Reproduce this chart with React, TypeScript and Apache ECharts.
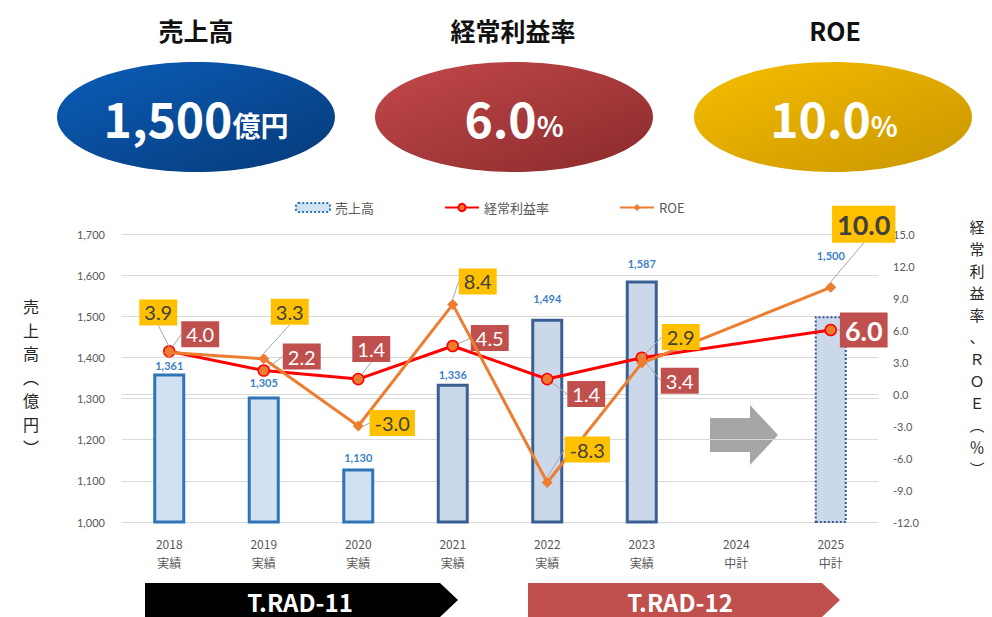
import React, { useEffect, useRef } from "react";
import * as echarts from "echarts";

// ---- data ----
const years = ["2018", "2019", "2020", "2021", "2022", "2023", "2024", "2025"];
const kinds = ["実績", "実績", "実績", "実績", "実績", "実績", "中計", "中計"];
const sales: (number | null)[] = [1361, 1305, 1130, 1336, 1494, 1587, null, 1500];
const profitRate: (number | null)[] = [4.0, 2.2, 1.4, 4.5, 1.4, 3.4, null, 6.0];
const roe: (number | null)[] = [3.9, 3.3, -3.0, 8.4, -8.3, 2.9, null, 10.0];
const salesAxis = { min: 1000, max: 1700, interval: 100 };
const rateAxis = { min: -12, max: 15, interval: 3 };
const targets = { sales: "1,500", profit: "6.0", roe: "10.0" };
const leftAxisName = ["売", "上", "高", "︵", "億", "円", "︶"];
const rightAxisName = ["経", "常", "利", "益", "率", "、", "Ｒ", "Ｏ", "Ｅ", "︵", "％", "︶"];

// ---- styles (label shifts in px, not data) ----
const barFill = ["#D0E1F2", "#D0E1F2", "#D0E1F2", "#CBD8EA", "#CBD8EA", "#CBD8EA", "#CBD8EA", "#CBD8EA"];
const barBorder = ["#2E75B6", "#2E75B6", "#2E75B6", "#3A5F92", "#3A5F92", "#3A5F92", "#3A5F92", "#2F5597"];
const barLabelGap = [2, 9, 6, 4, 15, 12, 0, 55];
const roeShift = [[-11, -40], [26, -47], [34, -3], [25, -23], [40, -33], [39, -26], [0, 0], [33, -63]];
const profitShift = [[31, -17], [38, -14], [13, -30], [37, -8], [39, 15], [38, 23], [0, 0], [33, 0]];

const JP = "'Noto Sans CJK JP', 'Noto Sans', sans-serif";
const NUM = "Lato, 'Noto Sans CJK JP', sans-serif";

export default function App() {
  const ref = useRef<HTMLDivElement>(null);
  useEffect(() => {
    if (!ref.current) return;
    const chart = echarts.init(ref.current, undefined, { renderer: "svg" });
    const last = years.length - 1;

    const ellipse = (cx: number, c1: string, c2: string) => ({
      type: "ellipse",
      shape: { cx, cy: 117, rx: 139, ry: 55 },
      style: { fill: new echarts.graphic.LinearGradient(0, 0, 1, 1, [{ offset: 0, color: c1 }, { offset: 1, color: c2 }]) },
      z: 1,
    });
    const title = (x: number, text: string) => ({
      type: "text",
      x, y: 30,
      style: { text, fontSize: 25, fontWeight: "bold", fill: "#111", fontFamily: JP, align: "center", verticalAlign: "middle" },
    });
    const bigText = (x: number, big: string, small: string) => ({
      type: "text",
      x, y: 117, z: 5,
      style: {
        text: `{b|${big}}{s|${small}}`,
        align: "center", verticalAlign: "middle",
        rich: {
          b: { fontSize: 48, fontWeight: "bold", fill: "#fff", fontFamily: JP, verticalAlign: "bottom" },
          s: { fontSize: 28, fontWeight: "bold", fill: "#fff", fontFamily: JP, verticalAlign: "bottom", padding: [0, 0, 2, 0] },
        },
      },
    });
    const vertical = (chars: string[], x: number, y0: number, step: number, size: number) =>
      chars.map((c, i) => ({
        type: "text", x, y: y0 + i * step,
        style: { text: c, fontSize: size, fill: "#262626", fontFamily: JP, align: "center", verticalAlign: "middle" },
      }));

    const option: any = {
      animation: false,
      textStyle: { fontFamily: JP },
      legend: {
        top: 196,
        left: 290,
        itemWidth: 34,
        itemHeight: 9,
        itemGap: 70,
        textStyle: { color: "#595959", fontSize: 13, fontFamily: JP },
        data: [
          { name: "売上高", itemStyle: { color: "#D0E1F2", borderColor: "#2E75B6", borderWidth: 2, borderType: "dotted" } },
          "経常利益率",
          "ROE",
        ],
      },
      grid: { left: 122, right: 114, top: 234, bottom: 95 },
      xAxis: {
        type: "category",
        data: years,
        axisLine: { lineStyle: { color: "#D9D9D9" } },
        axisTick: { show: false },
        axisLabel: {
          color: "#595959", fontSize: 12, lineHeight: 19, margin: 12,
          formatter: (v: string, i: number) => `${v}\n${kinds[i]}`,
        },
      },
      yAxis: [
        {
          type: "value",
          ...salesAxis,
          axisLine: { show: false },
          axisTick: { show: false },
          splitLine: { lineStyle: { color: "#D9D9D9", width: 1 } },
          axisLabel: { color: "#595959", fontSize: 11, margin: 17, fontFamily: NUM, formatter: (v: number) => v.toLocaleString("en-US") },
        },
        {
          type: "value",
          ...rateAxis,
          axisLine: { show: false },
          axisTick: { show: false },
          splitLine: { show: false },
          axisLabel: { color: "#595959", fontSize: 11, margin: 15, fontFamily: NUM, formatter: (v: number) => v.toFixed(1) },
        },
      ],
      series: [
        {
          name: "売上高",
          type: "bar",
          yAxisIndex: 0,
          barWidth: 32,
          z: 1,
          itemStyle: { color: "#CBD8EA", borderColor: "#2F5597", borderWidth: 2, borderType: "dotted" },
          label: {
            show: true, position: "top", color: "#3C7FC4", fontSize: 11, fontWeight: "bold", fontFamily: NUM,
            formatter: (p: any) => (p.value == null ? "" : Number(p.value).toLocaleString("en-US")),
          },
          data: sales.map((v, i) => ({
            value: v,
            itemStyle: {
              color: barFill[i],
              borderColor: barBorder[i],
              borderWidth: i === last ? 2 : 3,
              borderType: i === last ? "dotted" : "solid",
            },
            label: { distance: barLabelGap[i] },
          })),
        },
        {
          name: "経常利益率",
          type: "line",
          yAxisIndex: 1,
          connectNulls: true,
          z: 3,
          symbol: "circle",
          symbolSize: 11,
          lineStyle: { color: "#FF0000", width: 3 },
          itemStyle: { color: "#ED7D31", borderColor: "#FF0000", borderWidth: 1.5 },
          label: {
            show: true, position: "inside", backgroundColor: "#C0504D", color: "#fff",
            fontSize: 20, padding: [4, 5, 2, 5], fontFamily: NUM,
            formatter: (p: any) => Number(p.value).toFixed(1),
          },
          labelLine: { show: true, lineStyle: { color: "#A6A6A6", width: 1 } },
          labelLayout: (p: any) => ({ dx: profitShift[p.dataIndex][0], dy: profitShift[p.dataIndex][1] }),
          data: profitRate.map((v, i) => i === last
            ? { value: v, label: { fontSize: 27, fontWeight: "bold", padding: [5, 5, 3, 5] } }
            : { value: v }),
        },
        {
          name: "ROE",
          type: "line",
          yAxisIndex: 1,
          connectNulls: true,
          z: 4,
          symbol: "diamond",
          symbolSize: 11,
          lineStyle: { color: "#ED7D31", width: 3 },
          itemStyle: { color: "#ED7D31" },
          label: {
            show: true, position: "inside", backgroundColor: "#FFC000", color: "#404040",
            fontSize: 20, padding: [4, 5, 2, 5], fontFamily: NUM,
            formatter: (p: any) => Number(p.value).toFixed(1),
          },
          labelLine: { show: true, lineStyle: { color: "#A6A6A6", width: 1 } },
          labelLayout: (p: any) => ({ dx: roeShift[p.dataIndex][0], dy: roeShift[p.dataIndex][1] }),
          data: roe.map((v, i) => i === last
            ? { value: v, label: { fontSize: 27, fontWeight: "bold", padding: [6, 5, 4, 5] } }
            : { value: v }),
        },
      ],
      graphic: [
        title(196, "売上高"),
        title(513, "経常利益率"),
        title(835, "ROE"),
        ellipse(196, "#0B5DB9", "#063A78"),
        ellipse(514, "#C4494A", "#892A2C"),
        ellipse(833, "#F6BE00", "#C99500"),
        bigText(196, targets.sales, "億円"),
        bigText(514, targets.profit, "%"),
        bigText(834, targets.roe, "%"),
        ...vertical(leftAxisName, 31, 306, 23.5, 16),
        ...vertical(rightAxisName, 977, 226, 22, 15),
        {
          type: "polygon",
          shape: { points: [[710, 418], [750, 418], [750, 405], [778, 435], [750, 465], [750, 452], [710, 452]] },
          style: { fill: "#A6A6A6" },
        },
        {
          type: "polygon",
          shape: { points: [[145, 583], [440, 583], [458, 600], [440, 617], [145, 617]] },
          style: { fill: "#000" },
        },
        {
          type: "text", x: 300, y: 601,
          style: { text: "T.RAD-11", fontSize: 24, fontWeight: "bold", fill: "#fff", fontFamily: JP, align: "center", verticalAlign: "middle" },
        },
        {
          type: "polygon",
          shape: { points: [[528, 583], [822, 583], [840, 600], [822, 617], [528, 617]] },
          style: { fill: "#C0504D" },
        },
        {
          type: "text", x: 680, y: 601,
          style: { text: "T.RAD-12", fontSize: 24, fontWeight: "bold", fill: "#fff", fontFamily: JP, align: "center", verticalAlign: "middle" },
        },
      ],
    };
    chart.setOption(option);
    return () => chart.dispose();
  }, []);
  return <div ref={ref} style={{ position: "fixed", left: 0, top: 0, width: 992, height: 617, background: "#fff" }} />;
}
